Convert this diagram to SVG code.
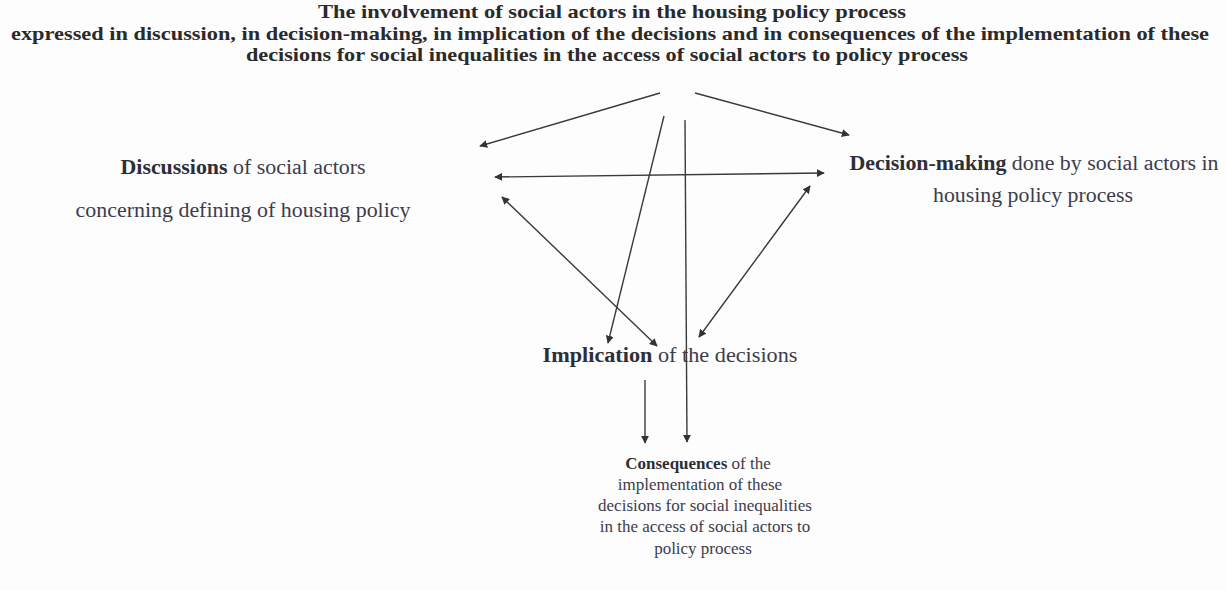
<svg xmlns="http://www.w3.org/2000/svg" width="1226" height="591" viewBox="0 0 1226 591">
<style>
text{font-family:"Liberation Serif","Times New Roman",serif;fill:#3c3c4c;}
.t{font-weight:bold;font-size:19px;fill:#2a2a2a;}
.n{font-size:20px;}
.s{font-size:17px;}
.b{font-weight:bold;fill:#2e2e38;}
.c{stroke:#3a3a3a;stroke-width:1.4;fill:none;}
</style>
<defs>
<marker id="ah" viewBox="0 0 10 10" refX="9" refY="5" markerWidth="8" markerHeight="8" markerUnits="userSpaceOnUse" orient="auto-start-reverse">
<path d="M0,0 L10,5 L0,10 z" fill="#333"/>
</marker>
</defs>
<rect width="1226" height="591" fill="#fdfdfd"/>
<g id="title" text-anchor="middle">
<text class="t" x="612" y="18" textLength="588" lengthAdjust="spacingAndGlyphs">The involvement of social actors in the housing policy process</text>
<text class="t" x="610" y="40" textLength="1198" lengthAdjust="spacingAndGlyphs">expressed in discussion, in decision-making, in implication of the decisions and in consequences of the implementation of these</text>
<text class="t" x="607" y="61" textLength="722" lengthAdjust="spacingAndGlyphs">decisions for social inequalities in the access of social actors to policy process</text>
</g>
<g id="discussions" text-anchor="middle">
<text class="n" x="243" y="174" textLength="245" lengthAdjust="spacingAndGlyphs"><tspan class="b">Discussions</tspan> of social actors</text>
<text class="n" x="243" y="217" textLength="335" lengthAdjust="spacingAndGlyphs">concerning defining of housing policy</text>
</g>
<g id="decision-making" text-anchor="middle">
<text class="n" x="1034" y="170" textLength="369" lengthAdjust="spacingAndGlyphs"><tspan class="b">Decision-making</tspan> done by social actors in</text>
<text class="n" x="1033" y="202" textLength="200" lengthAdjust="spacingAndGlyphs">housing policy process</text>
</g>
<g id="implication" text-anchor="middle">
<text class="n" x="670" y="362" textLength="255" lengthAdjust="spacingAndGlyphs"><tspan class="b">Implication</tspan> of the decisions</text>
</g>
<g id="consequences" text-anchor="middle">
<text class="s" x="698" y="469"><tspan class="b">Consequences</tspan> of the</text>
<text class="s" x="700" y="490">implementation of these</text>
<text class="s" x="705" y="511">decisions for social inequalities</text>
<text class="s" x="705" y="532">in the access of social actors to</text>
<text class="s" x="703" y="554">policy process</text>
</g>
<g id="connectors">
<line class="c" x1="660" y1="93" x2="480" y2="146" marker-end="url(#ah)"/>
<line class="c" x1="695" y1="93" x2="849" y2="135" marker-end="url(#ah)"/>
<line class="c" x1="495" y1="177" x2="824" y2="173" marker-start="url(#ah)" marker-end="url(#ah)"/>
<line class="c" x1="664" y1="116" x2="608" y2="343" marker-end="url(#ah)"/>
<line class="c" x1="685" y1="120" x2="687" y2="442" marker-end="url(#ah)"/>
<line class="c" x1="502" y1="197" x2="657" y2="346" marker-start="url(#ah)" marker-end="url(#ah)"/>
<line class="c" x1="810" y1="186" x2="699" y2="337" marker-start="url(#ah)" marker-end="url(#ah)"/>
<line class="c" x1="645" y1="380" x2="645" y2="443" marker-end="url(#ah)"/>
</g>
</svg>
